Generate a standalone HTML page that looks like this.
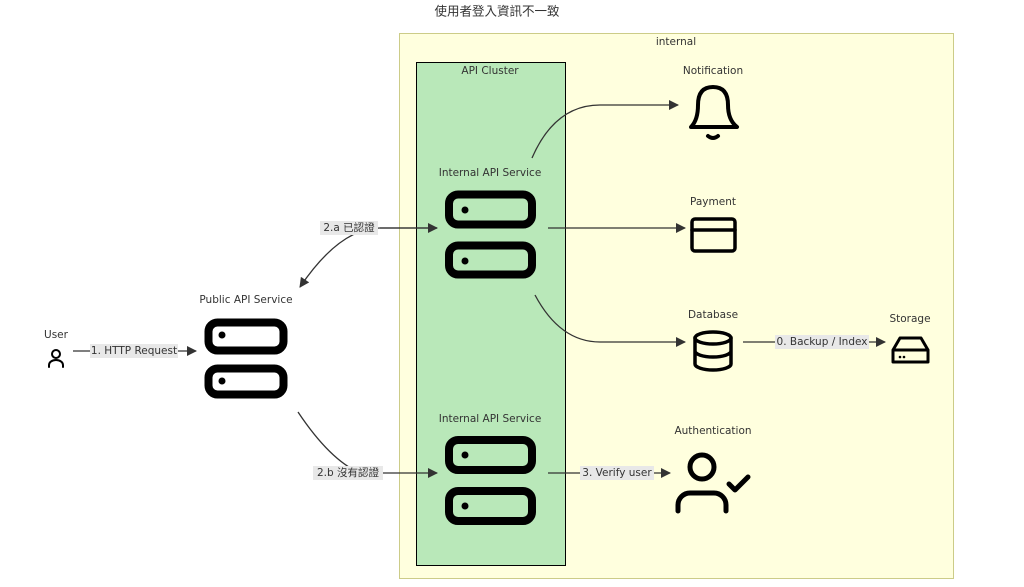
<!DOCTYPE html>
<html><head><meta charset="utf-8"><style>
html,body{margin:0;padding:0;background:#fff;}
svg{display:block;font-family:"DejaVu Sans","Liberation Sans","Noto Sans CJK TC",sans-serif;}
.lbl{font-size:10.5px;fill:#333;text-anchor:middle;dominant-baseline:middle;}
.e{fill:none;stroke:#333;stroke-width:1.3;}
.ic{fill:none;stroke:#000;stroke-linecap:round;stroke-linejoin:round;}
.bg{fill:#e8e8e8;}
</style></head><body>
<svg width="1024" height="587" viewBox="0 0 1024 587" xmlns="http://www.w3.org/2000/svg">
<defs><marker id="a" markerWidth="10" markerHeight="10" refX="9" refY="5" orient="auto" markerUnits="userSpaceOnUse"><path d="M0,0 L10,5 L0,10 z" fill="#333"/></marker></defs>
<text x="497" y="12" class="lbl" style="font-size:12.5px;font-family:'Noto Sans CJK TC',sans-serif">使用者登入資訊不一致</text>
<rect x="399.5" y="33.5" width="554" height="545" fill="#ffffde" stroke="#cccc88"/>
<text x="676" y="42" class="lbl">internal</text>
<rect x="416.5" y="62.5" width="149" height="503" fill="#b9e8b9" stroke="#000"/>
<text x="490" y="71" class="lbl">API Cluster</text>

<g class="ic" stroke-width="8">
<rect x="449" y="194.5" width="83" height="30" rx="9"/><rect x="449" y="245.5" width="83" height="29" rx="9"/>
<rect x="449" y="440" width="83" height="30" rx="9"/><rect x="449" y="491" width="83" height="30" rx="9"/>
<rect x="208.5" y="322.5" width="75" height="28" rx="9"/><rect x="208.5" y="368.5" width="75" height="26" rx="9"/>
</g>
<g fill="#000"><circle cx="465" cy="210" r="3.5"/><circle cx="465" cy="261" r="3.5"/><circle cx="465" cy="455" r="3.5"/><circle cx="465" cy="506" r="3.5"/><circle cx="222" cy="335" r="3.5"/><circle cx="222" cy="381" r="3.5"/></g>
<text x="490" y="173" class="lbl">Internal API Service</text>
<text x="490" y="419" class="lbl">Internal API Service</text>
<text x="246" y="300" class="lbl">Public API Service</text>
<text x="56" y="335" class="lbl">User</text>
<g class="ic" stroke-width="2"><circle cx="56" cy="354" r="4"/><path d="M49,367 v-2 a7,5 0 0 1 14,0 v2"/></g>

<path class="e" d="M73,351 H196" marker-end="url(#a)"/>
<rect x="90" y="344" width="88" height="14" class="bg"/><text x="134" y="351" class="lbl">1. HTTP Request</text>
<path class="e" d="M437,228 H380 Q340,228 300,287" marker-end="url(#a)"/>
<path class="e" d="M380,228 H437" marker-end="url(#a)"/>
<rect x="320" y="221" width="58" height="14" class="bg"/><text x="349" y="228" class="lbl">2.a 已認證</text>
<path class="e" d="M298,412 Q330,460 360,473 H437" marker-end="url(#a)"/>
<rect x="313" y="466" width="70" height="14" class="bg"/><text x="348" y="473" class="lbl">2.b 沒有認證</text>
<path class="e" d="M532,158 Q555,105 600,105 H678" marker-end="url(#a)"/>
<path class="e" d="M548,228 H685" marker-end="url(#a)"/>
<path class="e" d="M535,295 Q560,342 600,342 H685" marker-end="url(#a)"/>
<path class="e" d="M743,342 H885" marker-end="url(#a)"/>
<rect x="775" y="335" width="94" height="14" class="bg"/><text x="822" y="342" class="lbl">0. Backup / Index</text>
<path class="e" d="M548,473 H670" marker-end="url(#a)"/>
<rect x="580" y="466" width="74" height="14" class="bg"/><text x="617" y="473" class="lbl">3. Verify user</text>

<text x="713" y="71" class="lbl">Notification</text>
<g class="ic" stroke-width="4"><path d="M691,127 Q698,120 698,105 Q698,87 713,87 Q728,87 728,105 Q728,120 737,127 Z"/><path d="M708,136 q5,4 10,0"/></g>
<text x="713" y="202" class="lbl">Payment</text>
<g class="ic" stroke-width="3.5"><rect x="692" y="219" width="43" height="32" rx="3"/><path d="M692,230 H735"/></g>
<text x="713" y="315" class="lbl">Database</text>
<g class="ic" stroke-width="3.5"><ellipse cx="713" cy="338" rx="18" ry="6"/><path d="M695,338 V364 A18,6 0 0 0 731,364 V338 M695,351 A18,6 0 0 0 731,351"/></g>
<text x="910" y="319" class="lbl">Storage</text>
<g class="ic" stroke-width="3"><path d="M893,350 L900,338 H921 L928,350 V362 H893 Z M893,350 H928"/></g>
<g fill="#000"><circle cx="900" cy="357" r="1.3"/><circle cx="904" cy="357" r="1.3"/></g>
<text x="713" y="431" class="lbl">Authentication</text>
<g class="ic" stroke-width="5"><circle cx="702" cy="467" r="12"/><path d="M678,511 v-6 a12,12 0 0 1 12,-12 h24 a12,12 0 0 1 12,12 v6"/><path d="M729,484 l6,6 l13,-13"/></g>
</svg>
</body></html>
